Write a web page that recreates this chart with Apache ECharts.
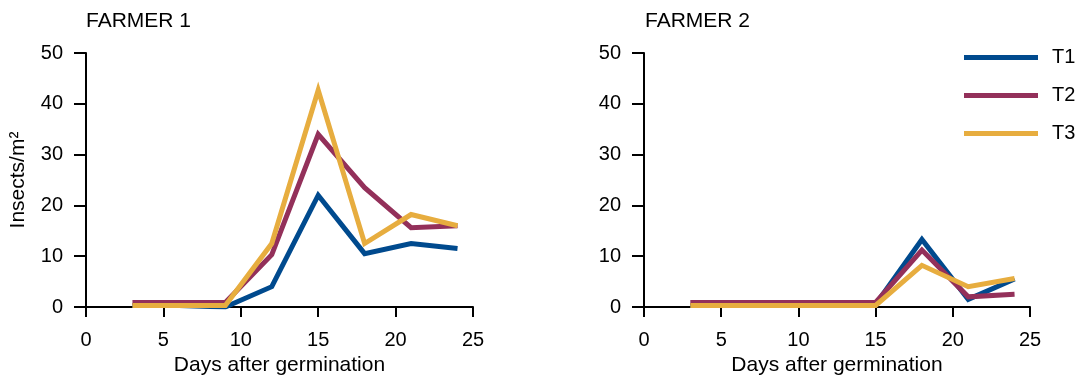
<!DOCTYPE html>
<html>
<head>
<meta charset="utf-8">
<script src="https://cdn.jsdelivr.net/npm/echarts@6/dist/echarts.min.js"></script>
<style>
  html, body { margin: 0; padding: 0; background: #fff; }
  #chart { width: 1087px; height: 379px; }
</style>
</head>
<body>
<div id="chart"></div>
<script>
// Sampling days (days after germination)
const days = [3, 6, 9, 12, 15, 18, 21, 24];
const treatments = ['T1', 'T2', 'T3'];
const xTicks = [0, 5, 10, 15, 20, 25];
const yTicks = [0, 10, 20, 30, 40, 50];

// Insects per m² — Farmer 1
const farmer1T1 = [0.3, 0.3, 0, 4, 22, 10.5, 12.5, 11.5];
const farmer1T2 = [0.9, 0.9, 0.9, 10.3, 34, 23.5, 15.6, 16];
const farmer1T3 = [0.3, 0.3, 0.3, 12.5, 42.7, 12.5, 18.2, 16];

// Insects per m² — Farmer 2
const farmer2T1 = [0.3, 0.3, 0.3, 0.3, 0.5, 13.3, 1.5, 5.5];
const farmer2T2 = [0.9, 0.9, 0.9, 0.9, 0.9, 11.2, 2, 2.5];
const farmer2T3 = [0.3, 0.3, 0.3, 0.3, 0.3, 8.2, 4, 5.6];

const colors = ['#004a8e', '#93305a', '#e7ad3f'];
const FONT = 'Liberation Sans, Arial, sans-serif';
const TICK_FS = 20;
const NAME_FS = 21;

const pair = vals => days.map((d, i) => [d, vals[i]]);

const chart = echarts.init(document.getElementById('chart'));

function xAxis(gridIndex) {
  return {
    type: 'value', gridIndex, min: xTicks[0], max: xTicks[xTicks.length - 1], interval: 5,
    name: 'Days after germination', nameLocation: 'middle', nameGap: 48, nameMoveOverlap: false,
    nameTextStyle: { color: '#000', fontSize: NAME_FS, fontFamily: FONT },
    axisLine: { show: true, onZero: false, lineStyle: { color: '#000', width: 2 } },
    axisTick: { show: true, length: 10, lineStyle: { color: '#000', width: 2 } },
    axisLabel: { color: '#000', fontSize: TICK_FS, fontFamily: FONT, margin: 23 },
    splitLine: { show: false }
  };
}

function yAxis(gridIndex, withName) {
  return {
    type: 'value', gridIndex, min: yTicks[0], max: yTicks[yTicks.length - 1], interval: 10,
    name: withName ? 'Insects/m²' : '', nameLocation: 'middle', nameGap: 57, nameMoveOverlap: false,
    nameTextStyle: { color: '#000', fontSize: NAME_FS, fontFamily: FONT },
    axisLine: { show: true, onZero: false, lineStyle: { color: '#000', width: 2 } },
    axisTick: { show: true, length: 12, lineStyle: { color: '#000', width: 2 } },
    axisLabel: { color: '#000', fontSize: TICK_FS, fontFamily: FONT, margin: 23 },
    splitLine: { show: false }
  };
}

function lineSeries(name, vals, idx) {
  return {
    name, type: 'line', xAxisIndex: idx, yAxisIndex: idx,
    data: pair(vals), symbol: 'none', color: colors[treatments.indexOf(name)],
    lineStyle: { width: 5, join: 'miter' }, animation: false
  };
}

const titleStyle = { fontSize: NAME_FS, fontWeight: 'normal', color: '#000', fontFamily: FONT };

chart.setOption({
  animation: false,
  title: [
    { text: 'FARMER 1', left: 86, top: 11, padding: 0, textStyle: titleStyle },
    { text: 'FARMER 2', left: 645, top: 11, padding: 0, textStyle: titleStyle }
  ],
  legend: {
    data: treatments, orient: 'vertical', left: 959, top: 42.5,
    icon: 'rect', itemWidth: 74, itemHeight: 5, itemGap: 18,
    textStyle: { fontSize: TICK_FS, color: '#000', fontFamily: FONT, padding: [0, 0, 0, 9] }
  },
  grid: [
    { left: 86, top: 53, width: 387, height: 254, outerBoundsMode: 'none', containLabel: false },
    { left: 644, top: 53, width: 386, height: 254, outerBoundsMode: 'none', containLabel: false }
  ],
  xAxis: [xAxis(0), xAxis(1)],
  yAxis: [yAxis(0, true), yAxis(1, false)],
  series: [
    lineSeries('T1', farmer1T1, 0),
    lineSeries('T2', farmer1T2, 0),
    lineSeries('T3', farmer1T3, 0),
    lineSeries('T1', farmer2T1, 1),
    lineSeries('T2', farmer2T2, 1),
    lineSeries('T3', farmer2T3, 1)
  ]
});
</script>
</body>
</html>
